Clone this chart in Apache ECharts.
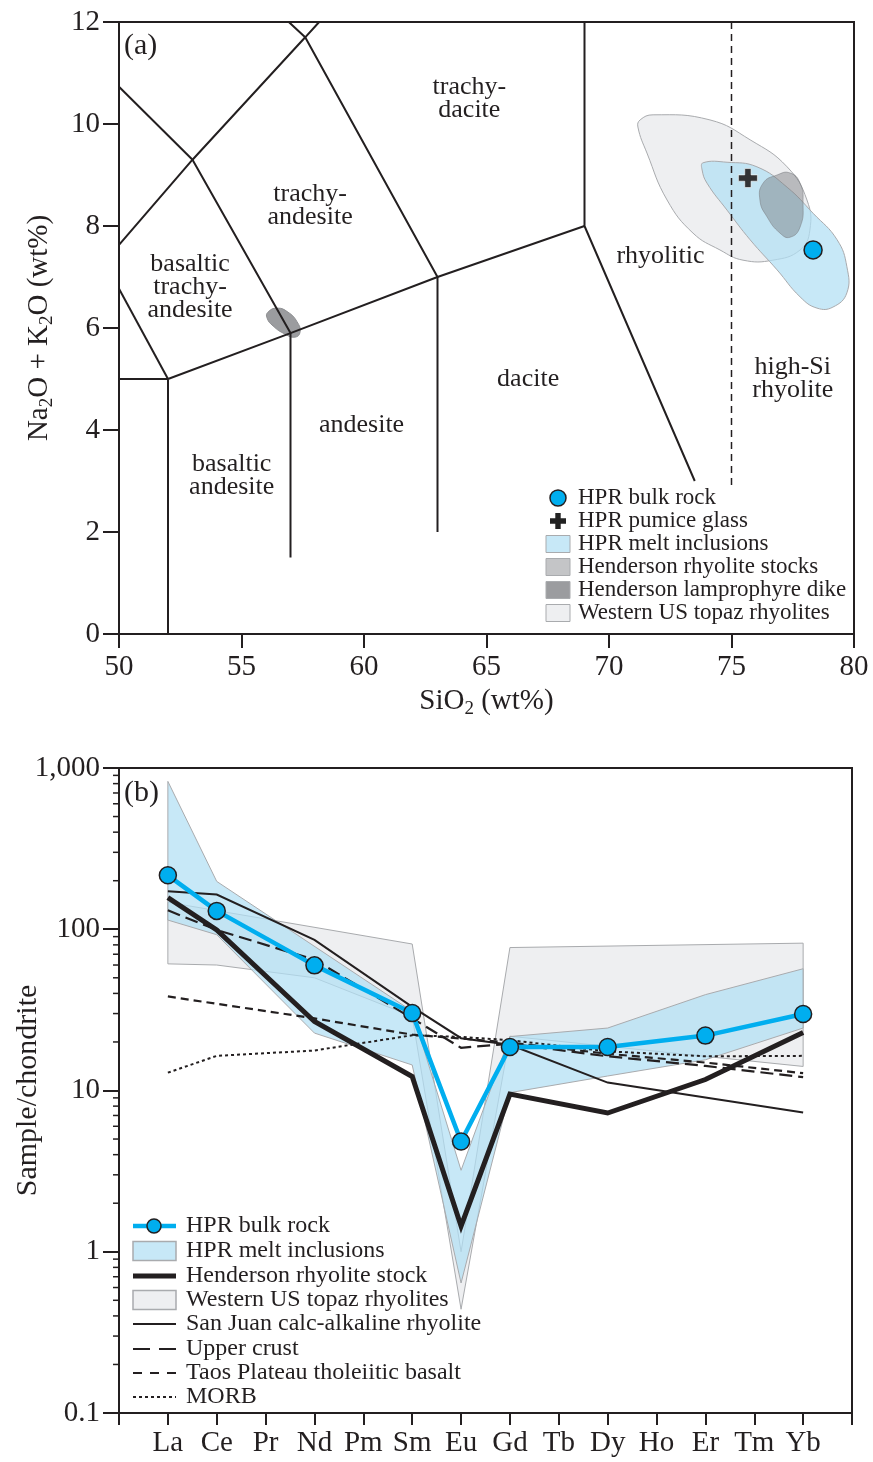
<!DOCTYPE html>
<html>
<head>
<meta charset="utf-8">
<title>TAS and REE diagrams</title>
<script src="https://cdn.jsdelivr.net/npm/echarts@6.0.0/dist/echarts.min.js"></script>
<style>
  html, body { margin: 0; padding: 0; background: #fff; }
  #main { width: 873px; height: 1462px; }
</style>
</head>
<body>
<div id="main"></div>
<script>
var ink = '#231f20';
var serif = 'Liberation Serif';
var hprBlue = '#00aeef';
var meltFill = 'rgba(178,223,244,0.72)';
var topazFill = '#eeeff1';
var fieldEdge = '#a9abae';

// ---------- (a) TAS: SiO2 vs Na2O+K2O (wt%) ----------
var tasLines = [
  [[50, 5], [52, 5]],
  [[52, 0], [52, 5], [57, 5.9], [63, 7], [69, 8]],
  [[57, 1.5], [57, 5.9]],
  [[63, 2], [63, 7]],
  [[69, 12], [69, 8], [73.5, 3.0]],
  [[50, 6.77], [52, 5]],
  [[50, 7.63], [53, 9.3], [57.6, 11.7], [58.17, 12]],
  [[50, 10.73], [53, 9.3], [57, 5.9]],
  [[56.93, 12], [57.6, 11.7], [63, 7]]
];
var highSiLine = [[75, 12], [75, 2.9]];

var fieldNames = ['trachy-\ndacite', 'trachy-\nandesite', 'basaltic\ntrachy-\nandesite', 'rhyolitic',
                  'high-Si\nrhyolite', 'dacite', 'andesite', 'basaltic\nandesite'];
var fieldX = [64.3, 57.8, 52.9, 72.1, 77.5, 66.7, 59.9, 54.6];
var fieldY = [10.5, 8.4, 6.8, 7.4, 5.0, 5.0, 4.1, 3.1];

var topazField = [[71.27, 10.08], [71.8, 10.18], [74.12, 10.08], [75.76, 9.69], [77.27, 9.16], [78.08, 8.51],
                  [78.2, 7.92], [77.8, 7.53], [76.69, 7.33], [75.47, 7.33], [74.53, 7.53], [73.43, 7.86],
                  [72.37, 8.51], [71.55, 9.43], [71.18, 9.94]];
var meltField = [[73.84, 9.24], [74.82, 9.25], [76.04, 9.16], [77.27, 8.76], [78.33, 8.25], [79.31, 7.73],
                 [79.71, 7.2], [79.71, 6.69], [79.14, 6.41], [78.49, 6.39], [77.8, 6.61], [76.86, 7.14],
                 [75.76, 7.73], [74.82, 8.31], [74.0, 8.84], [73.8, 9.1]];
var stockField = [[76.29, 8.84], [76.86, 9.0], [77.39, 9.04], [77.8, 8.84], [77.92, 8.45], [77.8, 7.98],
                  [77.39, 7.78], [76.98, 7.86], [76.45, 8.18], [76.16, 8.51]];
var dikeField = [[56.08, 6.31], [56.45, 6.39], [56.9, 6.31], [57.27, 6.12], [57.39, 5.92], [57.18, 5.82],
                 [56.78, 5.88], [56.29, 6.04], [56.04, 6.2]];
var bulkRockA = [[78.33, 7.53]];
var pumiceGlass = [[75.67, 8.94]];

// ---------- (b) chondrite-normalised REE ----------
var ree = ['La', 'Ce', 'Pr', 'Nd', 'Pm', 'Sm', 'Eu', 'Gd', 'Tb', 'Dy', 'Ho', 'Er', 'Tm', 'Yb'];
var bulkRock   = [216, 130, null, 59.7, null, 30.2, 4.83, 18.6, null, 18.6, null, 21.9, null, 29.8];
var henderson  = [157, 99, null, 26.8, null, 12.2, 1.44, 9.5, null, 7.25, null, 11.7, null, 22.9];
var sanJuan    = [172, 164, null, 86, null, 33, 21.1, 19.2, null, 11.2, null, null, null, 7.3];
var upperCrust = [131, 99, null, 64.7, null, 28, 18.4, 19.5, null, 16.3, null, 14.2, null, 12.1];
var taos       = [38.3, null, null, 28, null, 22.2, 21, 19.8, null, 16.9, null, 14.9, null, 12.8];
var morb       = [12.9, 16.4, null, 17.7, null, 22, 21.5, 20.5, null, 17.5, null, 16.3, null, 16.4];
var meltUpper  = [826, 198, null, null, null, 31, 3.2, 21.6, null, 24.4, null, 39.3, null, 56.9];
var meltLower  = [114, 92.5, null, 22.7, null, 14.4, 0.64, 9.7, null, 12.3, null, 15.5, null, 24.4];
var topazUpper = [147, null, null, null, null, 81, 1.0, 77, null, null, null, null, null, 82];
var topazLower = [61, 60, null, 50, null, 28.8, 0.44, 21.7, null, null, null, null, null, 14.1];
var yTickLabels = { '0.1': '0.1', '1': '1', '10': '10', '100': '100', '1000': '1,000' };
var minorMult = [2, 3, 4, 5, 6, 7, 8, 9];
var decades = [0.1, 1, 10, 100];

function pairs(arr) {
  var out = [];
  arr.forEach(function (v, i) { if (v != null) out.push([i, v]); });
  return out;
}

// polygon drawn through the axes of one grid
function fieldSeries(pts, gi, fill, stroke, smooth, z) {
  return {
    type: 'custom', xAxisIndex: gi, yAxisIndex: gi, z: z, silent: true, clip: false,
    data: [pts[0]],
    renderItem: function (params, api) {
      return {
        type: 'polygon',
        shape: { points: pts.map(function (p) { return api.coord(p); }), smooth: smooth },
        style: { fill: fill, stroke: stroke, lineWidth: 1 }
      };
    }
  };
}

function reeLine(arr, width, dash, color, z) {
  return {
    type: 'line', xAxisIndex: 1, yAxisIndex: 1, data: pairs(arr), connectNulls: true,
    symbol: 'none', z: z, silent: true,
    lineStyle: { color: color || ink, width: width, type: dash || 'solid', cap: 'butt', join: 'miter' }
  };
}

var series = [];
// (a) fields
series.push(fieldSeries(topazField, 0, topazFill, fieldEdge, 0.45, 1));
series.push(fieldSeries(meltField, 0, meltFill, fieldEdge, 0.45, 2));
series.push(fieldSeries(stockField, 0, 'rgba(120,122,126,0.45)', 'rgba(120,122,126,0.5)', 0.5, 3));
series.push(fieldSeries(dikeField, 0, '#9b9c9f', '#8e8f92', 0.5, 3));
tasLines.forEach(function (seg) {
  series.push({
    type: 'line', xAxisIndex: 0, yAxisIndex: 0, data: seg, symbol: 'none', z: 4, silent: true,
    lineStyle: { color: ink, width: 2 }
  });
});
series.push({
  type: 'line', xAxisIndex: 0, yAxisIndex: 0, data: highSiLine, symbol: 'none', z: 4, silent: true,
  lineStyle: { color: ink, width: 1.5, type: [7, 5] }
});
series.push({
  type: 'scatter', xAxisIndex: 0, yAxisIndex: 0, symbolSize: 0, z: 5, silent: true,
  itemStyle: { opacity: 1 },
  data: fieldNames.map(function (n, i) { return { name: n, value: [fieldX[i], fieldY[i]] }; }),
  label: {
    show: true, position: 'inside', formatter: '{b}', color: ink, fontFamily: serif,
    fontSize: 26, lineHeight: 23, align: 'center', verticalAlign: 'middle'
  }
});
series.push({
  type: 'scatter', xAxisIndex: 0, yAxisIndex: 0, data: pumiceGlass, z: 6, silent: true,
  symbol: 'path://M3,0h3v3h3v3h-3v3h-3v-3h-3v-3h3z', symbolSize: 19,
  itemStyle: { color: '#333335', borderColor: '#ffffff', borderWidth: 0.6, opacity: 1 }
});
series.push({
  type: 'scatter', xAxisIndex: 0, yAxisIndex: 0, data: bulkRockA, z: 6, silent: true,
  symbol: 'circle', symbolSize: 18,
  itemStyle: { color: hprBlue, borderColor: ink, borderWidth: 1.5, opacity: 1 }
});

// (b) bands
series.push(fieldSeries(pairs(topazUpper).concat(pairs(topazLower).reverse()), 1, topazFill, fieldEdge, 0, 1));
series.push(fieldSeries(pairs(meltUpper).concat(pairs(meltLower).reverse()), 1, meltFill, fieldEdge, 0, 2));
series.push(reeLine(morb, 2, [3, 3], null, 3));
series.push(reeLine(taos, 2.2, [8, 5], null, 3));
series.push(reeLine(upperCrust, 2.2, [13, 6], null, 3));
series.push(reeLine(sanJuan, 2, null, null, 4));
series.push(reeLine(henderson, 5, null, null, 5));
series.push({
  type: 'line', xAxisIndex: 1, yAxisIndex: 1, data: pairs(bulkRock), connectNulls: true, z: 6, silent: true,
  symbol: 'circle', symbolSize: 17, showAllSymbol: true,
  lineStyle: { color: hprBlue, width: 4.5 },
  itemStyle: { color: hprBlue, borderColor: ink, borderWidth: 1.5 }
});
// minor ticks on the log axis
var minorTicks = [];
decades.forEach(function (d) {
  minorMult.forEach(function (m) { minorTicks.push([-1, +(d * m).toPrecision(2)]); });
});
series.push({
  type: 'custom', xAxisIndex: 1, yAxisIndex: 1, data: minorTicks, clip: false, silent: true, z: 7,
  renderItem: function (params, api) {
    var p = api.coord([api.value(0), api.value(1)]);
    return { type: 'line', shape: { x1: p[0] - 6, y1: p[1], x2: p[0], y2: p[1] }, style: { stroke: ink, lineWidth: 1.5 } };
  }
});

var axisLine = { show: true, onZero: false, lineStyle: { color: ink, width: 2 } };
var tickLbl = { color: ink, fontFamily: serif, fontSize: 29 };
var nameRich = {
  n: { fontFamily: serif, fontSize: 29, color: ink },
  s: { fontFamily: serif, fontSize: 19, color: ink, padding: [16, 0, 0, 0] }
};

// legends drawn as graphic
var legAText = ['HPR bulk rock', 'HPR pumice glass', 'HPR melt inclusions', 'Henderson rhyolite stocks',
                'Henderson lamprophyre dike', 'Western US topaz rhyolites'];
var legBText = ['HPR bulk rock', 'HPR melt inclusions', 'Henderson rhyolite stock', 'Western US topaz rhyolites',
                'San Juan calc-alkaline rhyolite', 'Upper crust', 'Taos Plateau tholeiitic basalt', 'MORB'];
var legAY = [498, 521, 544, 567, 590, 613];
var legBY = [1226, 1251, 1276, 1300, 1324, 1349, 1373, 1397];
var graphics = [];
function gText(x, y, t, size) {
  graphics.push({ type: 'text', x: x, y: y, silent: true,
    style: { text: t, fill: ink, font: size + 'px "' + serif + '"', verticalAlign: 'middle', align: 'left' } });
}
legAText.forEach(function (t, i) { gText(578, legAY[i], t, 23); });
graphics.push({ type: 'circle', shape: { cx: 558, cy: legAY[0], r: 8 }, style: { fill: hprBlue, stroke: ink, lineWidth: 1.5 } });
var pc = [558, legAY[1]];
graphics.push({ type: 'polygon', silent: true, shape: { points: [
    [pc[0] - 2.7, pc[1] - 8], [pc[0] + 2.7, pc[1] - 8], [pc[0] + 2.7, pc[1] - 2.7], [pc[0] + 8, pc[1] - 2.7],
    [pc[0] + 8, pc[1] + 2.7], [pc[0] + 2.7, pc[1] + 2.7], [pc[0] + 2.7, pc[1] + 8], [pc[0] - 2.7, pc[1] + 8],
    [pc[0] - 2.7, pc[1] + 2.7], [pc[0] - 8, pc[1] + 2.7], [pc[0] - 8, pc[1] - 2.7], [pc[0] - 2.7, pc[1] - 2.7]] },
  style: { fill: '#222' } });
[meltFill, '#c4c5c7', '#9b9c9f', topazFill].forEach(function (f, k) {
  graphics.push({ type: 'rect', shape: { x: 546, y: legAY[k + 2] - 8.5, width: 24, height: 17 },
    style: { fill: f, stroke: fieldEdge, lineWidth: 1 } });
});
legBText.forEach(function (t, i) { gText(186, legBY[i], t, 24); });
function gLine(y, w, dash, color) {
  graphics.push({ type: 'line', shape: { x1: 133, y1: y, x2: 176, y2: y },
    style: { stroke: color || ink, lineWidth: w, lineDash: dash || null } });
}
gLine(legBY[0], 4.5, null, hprBlue);
graphics.push({ type: 'circle', shape: { cx: 154, cy: legBY[0], r: 7 }, style: { fill: hprBlue, stroke: ink, lineWidth: 1.5 } });
graphics.push({ type: 'rect', shape: { x: 133, y: legBY[1] - 9.5, width: 43, height: 19 }, style: { fill: meltFill, stroke: fieldEdge, lineWidth: 1.5 } });
gLine(legBY[2], 5);
graphics.push({ type: 'rect', shape: { x: 133, y: legBY[3] - 9.5, width: 43, height: 19 }, style: { fill: topazFill, stroke: fieldEdge, lineWidth: 1.5 } });
gLine(legBY[4], 2);
gLine(legBY[5], 2.2, [17, 9]);
gLine(legBY[6], 2.2, [9, 8]);
gLine(legBY[7], 2, [3, 3]);
gText(124, 46, '(a)', 30);
gText(124, 793, '(b)', 30);

var chart = echarts.init(document.getElementById('main'));
chart.setOption({
  backgroundColor: '#ffffff',
  animation: false,
  grid: [
    { left: 119, top: 22, width: 735, height: 612, show: true, borderColor: ink, borderWidth: 2,
      backgroundColor: 'transparent', outerBoundsMode: 'none', containLabel: false },
    { left: 119, top: 768, width: 733, height: 645, show: true, borderColor: ink, borderWidth: 2,
      backgroundColor: 'transparent', outerBoundsMode: 'none', containLabel: false }
  ],
  xAxis: [
    {
      type: 'value', gridIndex: 0, min: 50, max: 80, interval: 5,
      axisLine: axisLine, splitLine: { show: false },
      axisTick: { show: true, inside: false, length: 14, lineStyle: { color: ink, width: 2 } },
      axisLabel: Object.assign({ margin: 19 }, tickLbl),
      name: '{n|SiO}{s|2}{n| (wt%)}', nameLocation: 'middle', nameGap: 50, nameMoveOverlap: false,
      nameTextStyle: { rich: nameRich }
    },
    {
      type: 'value', gridIndex: 1, min: -1, max: 14, interval: 1,
      axisLine: axisLine, splitLine: { show: false },
      axisTick: { show: true, inside: false, length: 12, lineStyle: { color: ink, width: 2 } },
      axisLabel: Object.assign({
        margin: 16, showMinLabel: true, showMaxLabel: true,
        formatter: function (v) { return ree[v] || ''; }
      }, tickLbl)
    }
  ],
  yAxis: [
    {
      type: 'value', gridIndex: 0, min: 0, max: 12, interval: 2,
      axisLine: axisLine, splitLine: { show: false },
      axisTick: { show: true, inside: false, length: 16, lineStyle: { color: ink, width: 2 } },
      axisLabel: Object.assign({ margin: 19 }, tickLbl),
      name: '{n|Na}{s|2}{n|O + K}{s|2}{n|O (wt%)}', nameLocation: 'middle', nameGap: 62, nameRotate: 90,
      nameMoveOverlap: false,
      nameTextStyle: { rich: nameRich }
    },
    {
      type: 'log', gridIndex: 1, min: 0.1, max: 1000, logBase: 10, splitNumber: 4,
      axisLine: axisLine, splitLine: { show: false },
      axisTick: { show: true, inside: false, length: 16, lineStyle: { color: ink, width: 2 } },
      axisLabel: Object.assign({
        margin: 19,
        formatter: function (v) { return yTickLabels[String(+v.toPrecision(3))] || ''; }
      }, tickLbl),
      name: 'Sample/chondrite', nameLocation: 'middle', nameGap: 76, nameRotate: 90,
      nameMoveOverlap: false,
      nameTextStyle: { fontFamily: serif, fontSize: 30, color: ink }
    }
  ],
  graphic: graphics,
  series: series
});
</script>
</body>
</html>
